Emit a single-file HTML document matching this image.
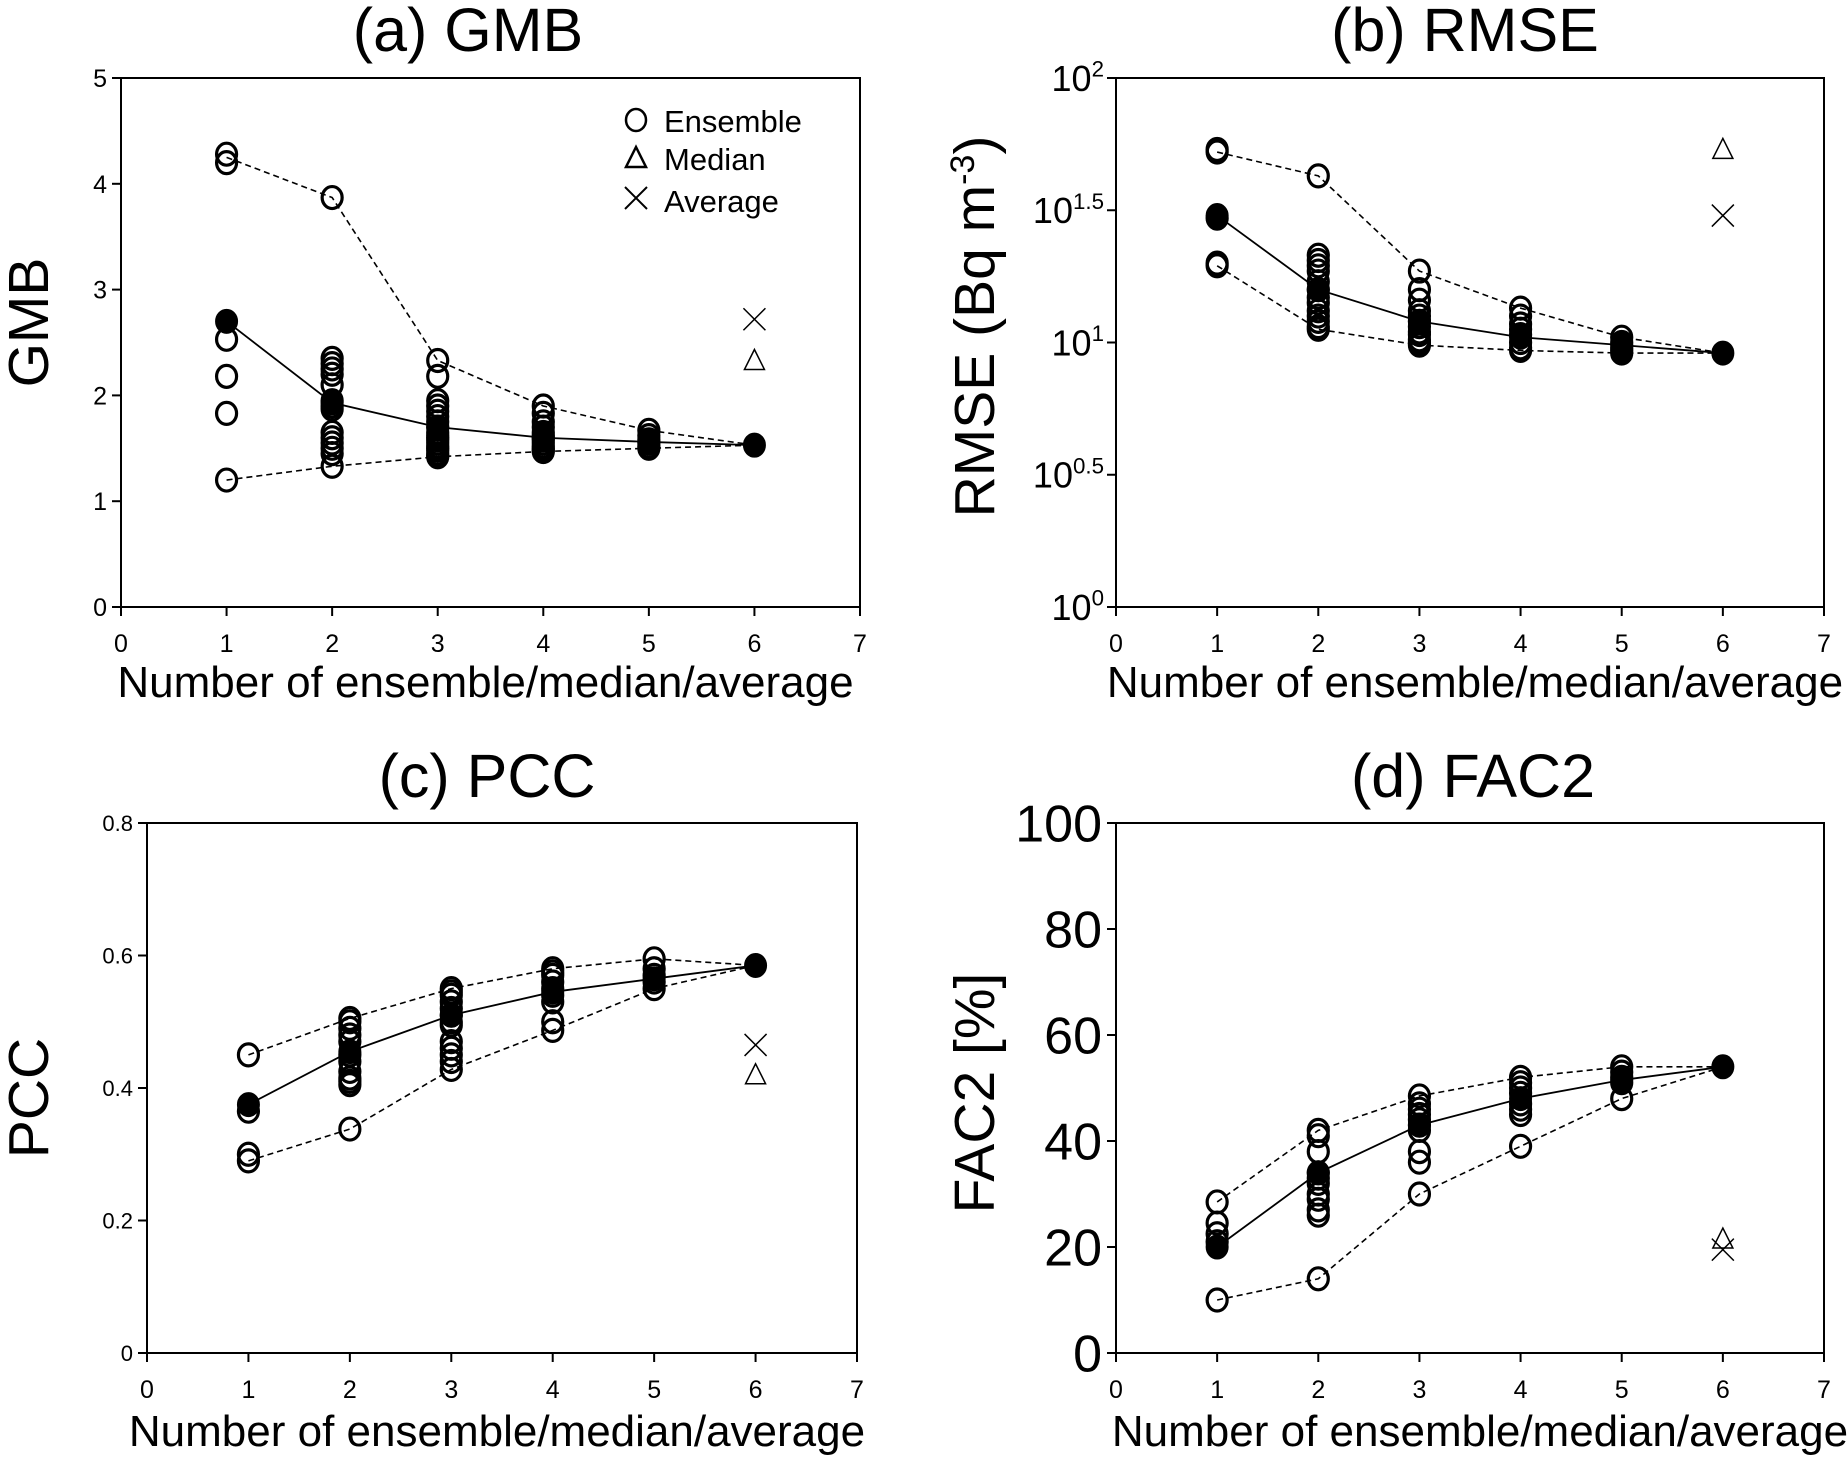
<!DOCTYPE html>
<html><head><meta charset="utf-8">
<style>
html,body{margin:0;padding:0;background:#fff;}
svg{display:block;font-family:"Liberation Sans Narrow","Liberation Sans",sans-serif;}
</style></head>
<body>
<svg id="fig" width="1848" height="1466" viewBox="0 0 1848 1466" xmlns="http://www.w3.org/2000/svg"></svg>
<script>
// ---------- data ----------
const xCats = [1,2,3,4,5,6];
const xTickLabels = ["0","1","2","3","4","5","6","7"];

// (a) GMB
const gmbEns = [
  [4.28,4.2,2.53,2.18,1.83,1.2],
  [3.87,2.35,2.3,2.25,2.2,2.1,1.95,1.9,1.87,1.65,1.6,1.55,1.5,1.45,1.33],
  [2.33,2.18,1.95,1.9,1.85,1.8,1.75,1.7,1.65,1.62,1.6,1.58,1.55,1.52,1.5,1.48,1.45,1.43,1.42],
  [1.9,1.83,1.75,1.7,1.65,1.62,1.6,1.58,1.55,1.52,1.5,1.48,1.47],
  [1.67,1.62,1.58,1.55,1.52,1.5],
  []
];
const gmbMean = [2.7,1.93,1.7,1.6,1.56,1.53];
const gmbMax = [4.25,3.87,2.33,1.9,1.67,1.53];
const gmbMin = [1.2,1.33,1.42,1.47,1.5,1.53];
const gmbMedian = 2.33, gmbAverage = 2.72;
const gmbTicks = ["0","1","2","3","4","5"];

// (b) RMSE (log10 exponents)
const rmseEns = [
  [1.73,1.72,1.47,1.3,1.29],
  [1.63,1.33,1.31,1.29,1.27,1.23,1.2,1.17,1.15,1.12,1.1,1.08,1.06,1.05],
  [1.27,1.2,1.16,1.12,1.1,1.08,1.06,1.04,1.03,1.01,1.0,0.99],
  [1.13,1.1,1.07,1.05,1.03,1.0,0.98,0.97],
  [1.02,1.0,0.98,0.97,0.96],
  []
];
const rmseMean = [1.48,1.2,1.08,1.02,0.99,0.96];
const rmseMax = [1.72,1.63,1.27,1.13,1.02,0.96];
const rmseMin = [1.29,1.05,0.99,0.97,0.96,0.96];
const rmseMedian = 1.73, rmseAverage = 1.48;
const rmseTicks = ["0","0.5","1","1.5","2"];

// (c) PCC
const pccEns = [
  [0.45,0.365,0.3,0.29],
  [0.505,0.5,0.49,0.48,0.47,0.45,0.44,0.425,0.415,0.41,0.405,0.338],
  [0.55,0.545,0.54,0.53,0.52,0.51,0.5,0.495,0.47,0.46,0.45,0.44,0.428],
  [0.58,0.575,0.57,0.56,0.55,0.54,0.53,0.5,0.487],
  [0.595,0.58,0.57,0.56,0.55],
  []
];
const pccMean = [0.375,0.455,0.51,0.545,0.565,0.585];
const pccMax = [0.45,0.505,0.55,0.58,0.595,0.585];
const pccMin = [0.29,0.338,0.428,0.487,0.55,0.585];
const pccMedian = 0.42, pccAverage = 0.465;
const pccTicks = ["0","0.2","0.4","0.6","0.8"];

// (d) FAC2
const facEns = [
  [28.5,24.5,22.5,21,10],
  [42,41,38,34,33,32,30,29,27,26,14],
  [48.5,47,46,45,44,43,42,38,36,30],
  [52,51,50,49,47,46,45,39],
  [54,53,52,51,48],
  []
];
const facMean = [20,34,43,48,51.5,54];
const facMax = [28.5,42,48.5,52,54,54];
const facMin = [10,14,30,39,48,54];
const facMedian = 21.5, facAverage = 19.5;
const facTicks = ["0","20","40","60","80","100"];

// ---------- drawing ----------
const NS = "http://www.w3.org/2000/svg";
const svg = document.getElementById('fig');
function mk(tag, attrs, parent){
  const e = document.createElementNS(NS, tag);
  for (const k in attrs) e.setAttribute(k, attrs[k]);
  (parent||svg).appendChild(e);
  return e;
}
function txt(s, attrs, parent){ const t = mk('text', attrs, parent); t.textContent = s; return t; }

function panel(cfg){
  const g = mk('g', {});
  
  
  const X = v => cfg.xl + (cfg.xr - cfg.xl) * v / 7;
  const Y = v => cfg.yb - (cfg.yb - cfg.yt) * (v - cfg.ymin) / (cfg.ymax - cfg.ymin);
  const fr = mk('rect', {x:cfg.xl, y:cfg.yt, width:cfg.xr-cfg.xl, height:cfg.yb-cfg.yt, fill:'none', stroke:'#000','stroke-width':2}, g);
  
  
  for (let i=0;i<xTickLabels.length;i++){
    mk('line',{x1:X(i),x2:X(i),y1:cfg.yb,y2:cfg.yb+9,stroke:'#000','stroke-width':2},g);
    const t = txt(xTickLabels[i],{x:X(i),y:cfg.yb+45,'text-anchor':'middle','font-size':cfg.xtfs},g);
    
    
  }
  const n = cfg.yTicks.length;
  for (let i=0;i<n;i++){
    const v = cfg.ymin + (cfg.ymax-cfg.ymin)*i/(n-1);
    mk('line',{x1:cfg.xl-9,x2:cfg.xl,y1:Y(v),y2:Y(v),stroke:'#000','stroke-width':2},g);
    let t;
    if (cfg.log){
      t = txt('10',{x:cfg.xl-12,y:Y(v)+cfg.ytfs*0.36,'text-anchor':'end','font-size':cfg.ytfs},g);
      const sp = mk('tspan',{dy:-cfg.ytfs*0.4,'font-size':cfg.ytfs*0.62},t);
      sp.textContent = cfg.yTicks[i];
    } else {
      t = txt(cfg.yTicks[i],{x:cfg.xl-14,y:Y(v)+cfg.ytfs*0.36,'text-anchor':'end','font-size':cfg.ytfs},g);
    }
    
    
  }
  const pts = arr => arr.map((v,i)=>X(xCats[i])+','+Y(v)).join(' ');
  const lmax = mk('polyline',{points:pts(cfg.max),fill:'none',stroke:'#000','stroke-width':1.6,'stroke-dasharray':'6,4'},g);
  
  
  const lmin = mk('polyline',{points:pts(cfg.min),fill:'none',stroke:'#000','stroke-width':1.6,'stroke-dasharray':'6,4'},g);
  
  
  const lmean = mk('polyline',{points:pts(cfg.mean),fill:'none',stroke:'#000','stroke-width':1.8},g);
  
  
  cfg.ens.forEach((arr,i)=>{
    arr.forEach(v=>{
      const c = mk('ellipse',{cx:X(xCats[i]),cy:Y(v),rx:10,ry:11,fill:'none',stroke:'#000','stroke-width':3.2},g);
      
      
    });
  });
  cfg.mean.forEach((v,i)=>{
    const c = mk('ellipse',{cx:X(xCats[i]),cy:Y(v),rx:11,ry:12,fill:'#000',stroke:'#000','stroke-width':1},g);
    
    
  });
  const mx = X(6), my = Y(cfg.median);
  const tri = mk('polygon',{points:`${mx},${my-11} ${mx-10},${my+9} ${mx+10},${my+9}`,fill:'none',stroke:'#000','stroke-width':1.5},g);
  
  
  const ay = Y(cfg.average);
  const cr = mk('path',{d:`M${mx-11},${ay-11}L${mx+11},${ay+11}M${mx+11},${ay-11}L${mx-11},${ay+11}`,stroke:'#000','stroke-width':1.5,fill:'none'},g);
  
  
  const tt = txt(cfg.title,{x:cfg.tx,y:cfg.ty,'text-anchor':'middle','font-size':61},g);
  
  
  const xl = txt('Number of ensemble/median/average',{x:(cfg.xl+cfg.xr)/2+ (cfg.xlo||0),y:cfg.yb+ (cfg.xly||90),'text-anchor':'middle','font-size':44},g);
  
  
  const yl = txt('',{x:0,y:0,'text-anchor':'middle','font-size':57,transform:`translate(${cfg.ylx},${(cfg.yt+cfg.yb)/2+(cfg.yloff||0)}) rotate(-90)`},g);
  if (cfg.ylabelSup){
    yl.appendChild(document.createTextNode(cfg.ylabel));
    const sp = mk('tspan',{dy:-20,'font-size':34},yl); sp.textContent = cfg.ylabelSup;
    const sp2 = mk('tspan',{dy:20},yl); sp2.textContent = ')';
  } else yl.textContent = cfg.ylabel;
  
  
  return g;
}

panel({name:'panel-a-gmb',xl:121,xr:860,yt:78,yb:607,ymin:0,ymax:5,yTicks:gmbTicks,xtfs:25,ytfs:25,
  ens:gmbEns,mean:gmbMean,max:gmbMax,min:gmbMin,median:gmbMedian,average:gmbAverage,
  title:'(a) GMB',tx:468,ty:51,ylabel:'GMB',ylx:48,xlo:-5,yloff:-20});
panel({name:'panel-b-rmse',xl:1116,xr:1824,yt:78,yb:607,ymin:0,ymax:2,yTicks:rmseTicks,log:true,xtfs:25,ytfs:36,
  ens:rmseEns,mean:rmseMean,max:rmseMax,min:rmseMin,median:rmseMedian,average:rmseAverage,
  title:'(b) RMSE',tx:1465,ty:51,ylabel:'RMSE (Bq m',ylabelSup:'-3',ylx:994,xlo:5,yloff:-16});
panel({name:'panel-c-pcc',xl:147,xr:857,yt:823,yb:1353,ymin:0,ymax:0.8,yTicks:pccTicks,xtfs:25,ytfs:22,
  ens:pccEns,mean:pccMean,max:pccMax,min:pccMin,median:pccMedian,average:pccAverage,
  title:'(c) PCC',tx:487,ty:797,ylabel:'PCC',ylx:48,xlo:-5,xly:93,yloff:10});
panel({name:'panel-d-fac2',xl:1116,xr:1824,yt:823,yb:1353,ymin:0,ymax:100,yTicks:facTicks,xtfs:25,ytfs:52,
  ens:facEns,mean:facMean,max:facMax,min:facMin,median:facMedian,average:facAverage,
  title:'(d) FAC2',tx:1473,ty:797,ylabel:'FAC2 [%]',ylx:994,xlo:10,xly:93,yloff:5});

// legend in panel (a)
const lg = mk('g',{});


const lc = mk('ellipse',{cx:636,cy:120,rx:10,ry:11,fill:'none',stroke:'#000','stroke-width':2.5},lg);


const l1 = txt('Ensemble',{x:664,y:132,'font-size':31,'font-family':'Liberation Sans, sans-serif'},lg);


const lt = mk('polygon',{points:'636,147 626,167 646,167',fill:'none',stroke:'#000','stroke-width':2.5},lg);


const l2 = txt('Median',{x:664,y:170,'font-size':31,'font-family':'Liberation Sans, sans-serif'},lg);


const lx = mk('path',{d:'M625,187L647,209M647,187L625,209',stroke:'#000','stroke-width':2,fill:'none'},lg);


const l3 = txt('Average',{x:664,y:212,'font-size':31,'font-family':'Liberation Sans, sans-serif'},lg);


</script>
</body></html>
